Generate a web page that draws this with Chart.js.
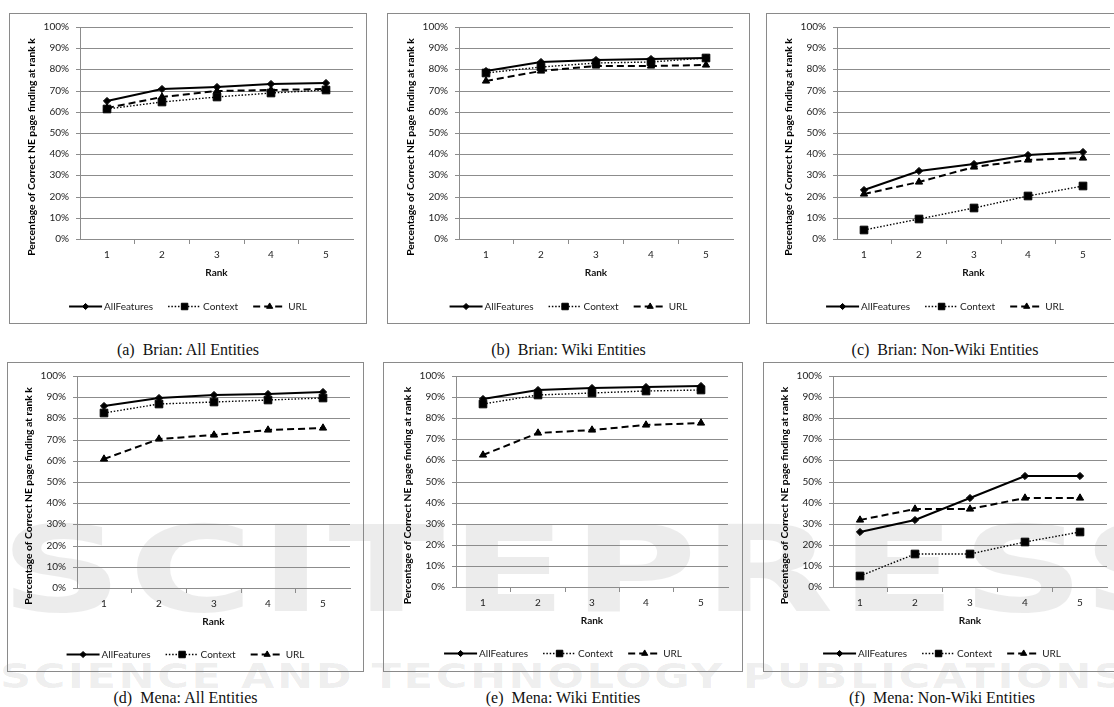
<!DOCTYPE html>
<html>
<head>
<meta charset="utf-8">
<script src="https://cdn.jsdelivr.net/npm/chart.js@4.4.1/dist/chart.umd.min.js"></script>
<style>
  html, body { margin:0; padding:0; background:#fff; }
  body { width:1114px; height:707px; overflow:hidden; position:relative; }
  .wm { position:absolute; left:0; color:rgba(0,0,0,0.075); font-family:"DejaVu Sans"; font-weight:bold; white-space:nowrap; z-index:0; transform-origin:left top; }
  .box { position:absolute; border:1px solid #8a8a8a; box-sizing:border-box; z-index:1; }
  .box canvas { position:absolute; left:0; top:0; }
  .cap { position:absolute; text-align:center; font-family:"Liberation Serif","Tinos","Times New Roman","DejaVu Serif",serif; font-size:16px; line-height:18px; color:#111; white-space:pre; z-index:1; }
</style>
</head>
<body>
<div class="wm" style="top:500px;font-size:120px;letter-spacing:4px;transform:scaleX(1.42);">SCITEPRESS</div>
<div class="wm" style="top:656px;font-size:34px;letter-spacing:2px;transform:scaleX(1.27);">SCIENCE AND TECHNOLOGY PUBLICATIONS</div>
<script>
// ---- data ----
const rankLabels = ['1', '2', '3', '4', '5'];
const seriesNames = ['AllFeatures', 'Context', 'URL'];
const yTickStep = 10;

const brianAll_AllFeatures = [65.3, 70.6, 71.9, 73.1, 73.7];
const brianAll_Context     = [61.4, 64.7, 66.9, 68.9, 70.3];
const brianAll_URL         = [61.9, 67.2, 69.7, 70.3, 70.8];

const brianWiki_AllFeatures = [79.1, 83.6, 84.5, 84.8, 85.6];
const brianWiki_Context     = [78.1, 81.3, 82.8, 83.7, 85.2];
const brianWiki_URL         = [74.4, 79.4, 81.4, 81.7, 82.0];

const brianNonWiki_AllFeatures = [23.1, 32.2, 35.2, 39.8, 41.1];
const brianNonWiki_Context     = [4.4, 9.5, 14.5, 20.5, 25.2];
const brianNonWiki_URL         = [21.1, 27.0, 34.1, 37.5, 38.4];

const menaAll_AllFeatures = [85.9, 89.8, 91.1, 91.7, 92.3];
const menaAll_Context     = [82.4, 86.7, 87.9, 88.7, 89.8];
const menaAll_URL         = [60.7, 70.5, 72.3, 74.5, 75.4];

const menaWiki_AllFeatures = [89.0, 93.2, 94.5, 94.6, 95.1];
const menaWiki_Context     = [86.9, 91.0, 92.1, 92.9, 93.5];
const menaWiki_URL         = [62.7, 72.8, 74.6, 76.9, 77.8];

const menaNonWiki_AllFeatures = [26.3, 31.6, 42.1, 52.6, 52.6];
const menaNonWiki_Context     = [5.3, 15.8, 15.8, 21.1, 26.3];
const menaNonWiki_URL         = [31.6, 36.8, 36.8, 42.1, 42.1];

const captions = [
  '(a)  Brian: All Entities', '(b)  Brian: Wiki Entities', '(c)  Brian: Non-Wiki Entities',
  '(d)  Mena: All Entities', '(e)  Mena: Wiki Entities', '(f)  Mena: Non-Wiki Entities'
];
const yTitle = 'Percentage of Correct NE page finding at rank k';
const xTitle = 'Rank';

// ---- layout (box: left, top, outer width, outer height; plot: left, top, right, bottom) ----
const layoutSpecs = [
  { box: [9, 13, 358, 311],   plot: [80, 26, 353, 239],   series: [brianAll_AllFeatures, brianAll_Context, brianAll_URL] },
  { box: [387, 13, 363, 311], plot: [459, 26, 733, 239],  series: [brianWiki_AllFeatures, brianWiki_Context, brianWiki_URL] },
  { box: [766, 13, 358, 311], plot: [837, 26, 1110, 239], series: [brianNonWiki_AllFeatures, brianNonWiki_Context, brianNonWiki_URL] },
  { box: [7, 362, 357, 310],  plot: [77, 375, 350, 588],  series: [menaAll_AllFeatures, menaAll_Context, menaAll_URL] },
  { box: [383, 362, 360, 310],plot: [456, 375, 728, 587], series: [menaWiki_AllFeatures, menaWiki_Context, menaWiki_URL] },
  { box: [763, 362, 358, 310],plot: [833, 375, 1107, 587],series: [menaNonWiki_AllFeatures, menaNonWiki_Context, menaNonWiki_URL] }
];

const FONT = 'Lato, "Open Sans", sans-serif';
const GRID = '#8c8c8c';

const seriesStyles = [
  { borderWidth: 2,   borderDash: [],     pointStyle: 'rectRot',  pointRadius: 3.6 },
  { borderWidth: 1.4, borderDash: [1.5, 1.8], pointStyle: 'rect', pointRadius: 5.4 },
  { borderWidth: 2,   borderDash: [7, 4], pointStyle: 'triangle', pointRadius: 4.2 }
];

const lineLegend = {
  id: 'lineLegend',
  afterDraw(chart, args, opts) {
    const ctx = chart.ctx;
    const ds = chart.data.datasets;
    ctx.save();
    ctx.font = opts.size + 'px ' + FONT;
    const sampleW = 33, gapText = 2, gapItem = 15;
    const widths = ds.map(d => sampleW + gapText + ctx.measureText(d.label).width);
    const total = widths.reduce((a, b) => a + b, 0) + gapItem * (ds.length - 1);
    let x = (chart.width - total) / 2;
    const y = Math.round(chart.chartArea.bottom + opts.offsetY) + 0.5;
    ds.forEach((d, i) => {
      ctx.save();
      ctx.strokeStyle = d.borderColor;
      ctx.lineWidth = d.borderWidth;
      ctx.setLineDash(d.borderDash || []);
      ctx.beginPath(); ctx.moveTo(x, y); ctx.lineTo(x + sampleW, y); ctx.stroke();
      ctx.setLineDash([]);
      ctx.fillStyle = d.pointBackgroundColor;
      ctx.strokeStyle = d.pointBorderColor;
      ctx.lineWidth = 1;
      Chart.helpers.drawPoint(ctx, { pointStyle: d.pointStyle, radius: d.pointRadius * 0.85, borderWidth: 1, rotation: 0 }, x + sampleW / 2, y);
      ctx.restore();
      ctx.fillStyle = '#222';
      ctx.textAlign = 'left';
      ctx.textBaseline = 'middle';
      ctx.fillText(d.label, x + sampleW + gapText, y);
      x += widths[i] + gapItem;
    });
    ctx.restore();
  }
};

const yTitlePlugin = {
  id: 'yTitleDraw',
  afterDraw(chart, args, opts) {
    const ctx = chart.ctx, a = chart.chartArea;
    ctx.save();
    ctx.translate(a.left - 48, (a.top + a.bottom) / 2 + 14);
    ctx.rotate(-Math.PI / 2);
    ctx.font = 'bold ' + opts.size + 'px ' + FONT;
    ctx.fillStyle = '#000';
    ctx.textAlign = 'center';
    ctx.textBaseline = 'middle';
    ctx.fillText(opts.text, 0, 0);
    ctx.restore();
  }
};

layoutSpecs.forEach((spec, idx) => {
  const [bl, bt, bw, bh] = spec.box;
  const [pl, pt, pr, pb] = spec.plot;
  const box = document.createElement('div');
  box.className = 'box';
  box.style.left = bl + 'px'; box.style.top = bt + 'px';
  box.style.width = bw + 'px'; box.style.height = bh + 'px';
  document.body.appendChild(box);
  const cw = bw - 2, ch = bh - 2;
  const canvas = document.createElement('canvas');
  canvas.width = cw; canvas.height = ch;
  canvas.style.width = cw + 'px'; canvas.style.height = ch + 'px';
  box.appendChild(canvas);

  const ox = bl + 1, oy = bt + 1;
  const yW = pl - ox;
  const xH = 40;
  const padTop = pt - oy;
  const padRight = cw - (pr - ox);
  const padBottom = ch - (pb - oy) - xH;

  const cap = document.createElement('div');
  cap.className = 'cap';
  cap.textContent = captions[idx];
  cap.style.left = bl + 'px';
  cap.style.width = bw + 'px';
  cap.style.top = (bt + bh + 26 - 9) + 'px';
  document.body.appendChild(cap);

  const datasets = spec.series.map((vals, i) => ({
    label: seriesNames[i],
    data: vals,
    borderColor: '#000',
    backgroundColor: '#000',
    pointBackgroundColor: '#000',
    pointBorderColor: '#000',
    pointBorderWidth: 1,
    borderWidth: seriesStyles[i].borderWidth,
    borderDash: seriesStyles[i].borderDash,
    pointStyle: seriesStyles[i].pointStyle,
    pointRadius: seriesStyles[i].pointRadius,
    tension: 0,
    fill: false,
    order: 3 - i
  }));

  new Chart(canvas, {
    type: 'line',
    data: { labels: rankLabels, datasets },
    plugins: [lineLegend, yTitlePlugin],
    options: {
      responsive: false,
      animation: false,
      devicePixelRatio: 1,
      layout: { padding: { left: 0, top: padTop, right: padRight, bottom: padBottom } },
      plugins: {
        legend: { display: false },
        tooltip: { enabled: false },
        lineLegend: { size: 10, offsetY: idx < 3 ? 67 : 66 },
        yTitleDraw: { text: yTitle, size: 10.3 }
      },
      scales: {
        x: {
          type: 'category',
          offset: true,
          alignToPixels: true,
          afterFit(s) { s.height = xH; },
          grid: { display: true, drawOnChartArea: false, drawTicks: true, tickLength: 5, color: GRID, offset: true },
          border: { display: true, color: GRID, width: 1 },
          ticks: { color: '#222', font: { family: FONT, size: 10 }, padding: 5, maxRotation: 0 },
          title: { display: true, text: xTitle, color: '#111', font: { family: FONT, size: 10, weight: 'bold' }, padding: { top: 0, bottom: 0 } }
        },
        y: {
          min: 0, max: 100,
          alignToPixels: true,
          afterFit(s) { s.width = yW; },
          grid: { display: true, drawTicks: true, tickLength: 4, color: GRID, lineWidth: 1 },
          border: { display: true, color: GRID, width: 1 },
          ticks: { stepSize: yTickStep, color: '#222', font: { family: FONT, size: 10 }, padding: 7, callback: v => v + '%' }
        }
      }
    }
  });
});
</script>
</body>
</html>
